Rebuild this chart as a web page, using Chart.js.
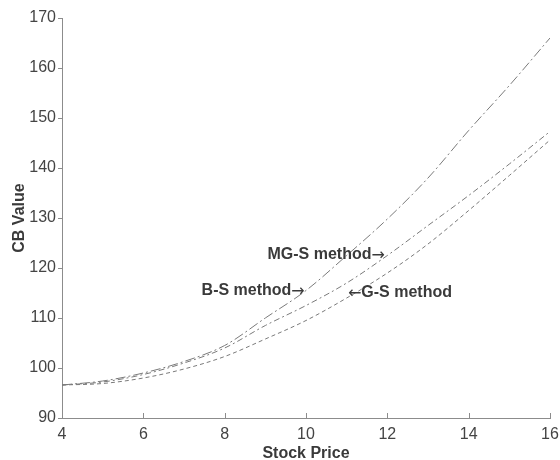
<!DOCTYPE html>
<html>
<head>
<meta charset="utf-8">
<script src="https://cdn.jsdelivr.net/npm/chart.js@4"></script>
<style>
  html, body { margin: 0; padding: 0; background: #fff; }
  #wrap { width: 560px; height: 460px; }
</style>
</head>
<body>
<div id="wrap"><canvas id="cbChart" width="560" height="460"></canvas></div>
<script>
// values
const stockPrice = [4, 5, 6, 7, 8, 9, 10, 11, 12, 13, 14, 15, 16];
const bsValues  = [96.6, 97.4, 99.0, 101.3, 104.5, 110.0, 115.5, 122.5, 129.8, 138.0, 147.5, 156.5, 166.0];
const mgsValues = [96.6, 97.2, 98.7, 101.0, 104.0, 108.5, 112.5, 117.0, 122.5, 128.5, 134.5, 140.8, 147.3];
const gsValues  = [96.6, 96.9, 98.0, 99.8, 102.3, 105.8, 109.5, 114.0, 119.0, 124.8, 131.5, 138.5, 145.6];
const xTicks = [4, 6, 8, 10, 12, 14, 16];
const yTicks = [90, 100, 110, 120, 130, 140, 150, 160, 170];

// text labels with arrows, anchored in data units (arrow tip end)
const notes = [
    { text: 'MG-S method', arrow: '\u2192', x: 11.94, y: 122.6, side: 'right' },
    { text: 'B-S method', arrow: '\u2192', x: 9.97, y: 115.5, side: 'right' },
    { text: 'G-S method', arrow: '\u2190', x: 11.03, y: 115.1, side: 'left' }
];

const lineGrey = '#7a7a7a';
const axisGrey = '#8c8c8c';
const textGrey = '#3a3a3a';
const labelFont = 'bold 16px "Liberation Sans", Arial, sans-serif';
const arrowFont = '16px "DejaVu Sans", sans-serif';

function toPoints(ys) {
    return stockPrice.map((x, i) => ({ x: x, y: ys[i] }));
}

// inward tick marks on the bottom axis + the arrow labels
const extrasPlugin = {
    id: 'extras',
    afterDatasetsDraw(chart) {
        const ctx = chart.ctx;
        const xs = chart.scales.x;
        const ys = chart.scales.y;
        const area = chart.chartArea;

        ctx.save();
        ctx.strokeStyle = axisGrey;
        ctx.lineWidth = 1;
        xTicks.forEach(v => {
            const px = Math.round(xs.getPixelForValue(v)) + 0.5;
            ctx.beginPath();
            ctx.moveTo(px, area.bottom);
            ctx.lineTo(px, area.bottom - 5);
            ctx.stroke();
        });

        ctx.fillStyle = textGrey;
        ctx.textBaseline = 'middle';
        notes.forEach(n => {
            const px = xs.getPixelForValue(n.x);
            const py = ys.getPixelForValue(n.y);
            ctx.font = arrowFont;
            const aw = ctx.measureText(n.arrow).width;
            if (n.side === 'right') {
                ctx.textAlign = 'right';
                ctx.fillText(n.arrow, px, py + 1);
                ctx.font = labelFont;
                ctx.fillText(n.text, px - aw, py);
            } else {
                ctx.textAlign = 'left';
                ctx.fillText(n.arrow, px, py + 1);
                ctx.font = labelFont;
                ctx.fillText(n.text, px + aw, py);
            }
        });
        ctx.restore();
    }
};

const ctx = document.getElementById('cbChart').getContext('2d');

new Chart(ctx, {
    type: 'line',
    data: {
        datasets: [
            {
                label: 'B-S method',
                data: toPoints(bsValues),
                borderColor: lineGrey,
                borderWidth: 1,
                borderDash: [10, 3, 2, 3],
                pointRadius: 0,
                cubicInterpolationMode: 'monotone',
                fill: false
            },
            {
                label: 'MG-S method',
                data: toPoints(mgsValues),
                borderColor: lineGrey,
                borderWidth: 1,
                borderDash: [6, 3, 2, 3],
                pointRadius: 0,
                cubicInterpolationMode: 'monotone',
                fill: false
            },
            {
                label: 'G-S method',
                data: toPoints(gsValues),
                borderColor: lineGrey,
                borderWidth: 1,
                borderDash: [4, 3],
                pointRadius: 0,
                cubicInterpolationMode: 'monotone',
                fill: false
            }
        ]
    },
    options: {
        responsive: false,
        animation: false,
        layout: { padding: { top: 18, right: 10, left: 0, bottom: 0 } },
        plugins: {
            legend: { display: false },
            tooltip: { enabled: false }
        },
        scales: {
            x: {
                type: 'linear',
                min: 4,
                max: 16,
                afterBuildTicks: s => { s.ticks = xTicks.map(v => ({ value: v })); },
                afterFit: s => { s.height = 42; s.paddingLeft = 0; s.paddingRight = 0; },
                grid: { display: true, drawOnChartArea: false, drawTicks: false },
                border: { display: true, color: axisGrey, width: 1 },
                ticks: {
                    color: '#444',
                    font: { family: '"Liberation Sans", Arial, sans-serif', size: 16 },
                    padding: 7,
                    maxRotation: 0
                },
                title: {
                    display: true,
                    text: 'Stock Price',
                    color: textGrey,
                    font: { family: '"Liberation Sans", Arial, sans-serif', size: 16, weight: 'bold' },
                    padding: { top: 0, bottom: -3 }
                }
            },
            y: {
                min: 90,
                max: 170,
                afterBuildTicks: s => { s.ticks = yTicks.map(v => ({ value: v })); },
                afterFit: s => { s.width = 62; },
                grid: { display: true, drawOnChartArea: false, drawTicks: true, tickLength: 4, color: axisGrey },
                border: { display: true, color: axisGrey, width: 1 },
                ticks: {
                    color: '#444',
                    font: { family: '"Liberation Sans", Arial, sans-serif', size: 16 },
                    padding: 2
                },
                title: {
                    display: true,
                    text: 'CB Value',
                    color: textGrey,
                    font: { family: '"Liberation Sans", Arial, sans-serif', size: 16, weight: 'bold' },
                    padding: { top: 10, bottom: 0 }
                }
            }
        }
    },
    plugins: [extrasPlugin]
});
</script>
</body>
</html>
